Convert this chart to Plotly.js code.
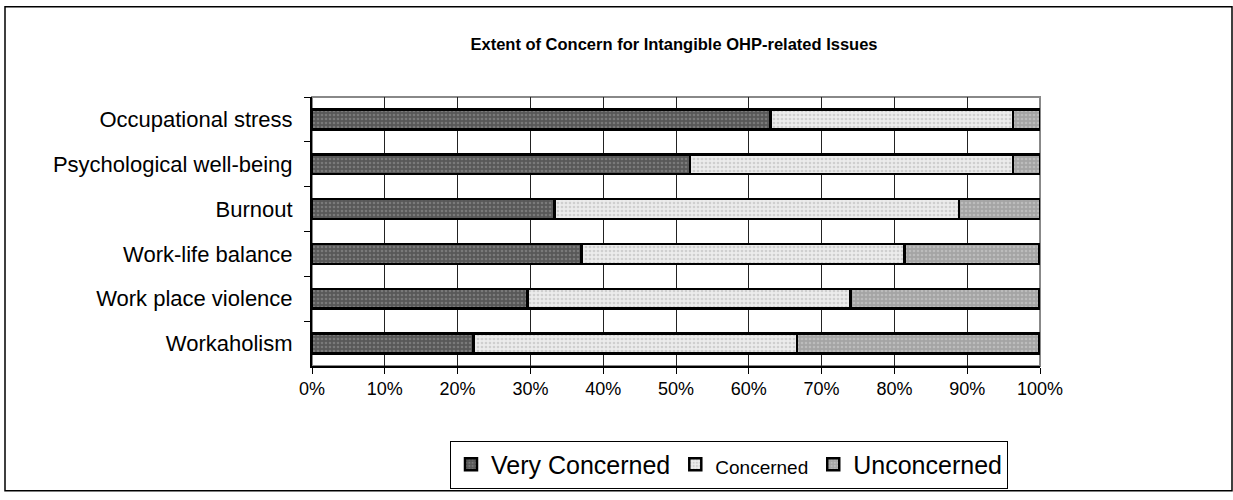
<!DOCTYPE html>
<html>
<head>
<meta charset="utf-8">
<script src="https://cdn.plot.ly/plotly-3.0.1.min.js"></script>
<style>html,body{margin:0;padding:0;background:#fff;}#chart{width:1233px;height:500px;}</style>
</head>
<body>
<div id="chart"></div>
<script>
// Data (percent of respondents)
const categories = ["Occupational stress", "Psychological well-being", "Burnout", "Work-life balance", "Work place violence", "Workaholism"];
const veryConcerned = [63.0, 51.9, 33.3, 37.0, 29.6, 22.2];
const concerned     = [33.3, 44.4, 55.6, 44.4, 44.4, 44.4];
const unconcerned   = [3.7, 3.7, 11.1, 18.5, 25.9, 33.3];
const seriesNames = ["Very Concerned", "<span style=\"font-size:19px\">Concerned</span>", "Unconcerned"];
const xTickVals = [0, 10, 20, 30, 40, 50, 60, 70, 80, 90, 100];
const xTickText = ["0%", "10%", "20%", "30%", "40%", "50%", "60%", "70%", "80%", "90%", "100%"];

const W = 1233, H = 500;
const M = {l: 312, r: 193, t: 97, b: 129};
const pw = W - M.l - M.r, ph = H - M.t - M.b;
const px = x => (x - M.l) / pw;
const py = y => (H - M.b - y) / ph;

function bar(vals, name, bg, fg) {
  return {
    type: 'bar', orientation: 'h', x: vals, y: categories, name: name,
    marker: {
      color: bg,
      line: {color: '#000', width: 2.5},
      pattern: {shape: '.', fgcolor: fg, bgcolor: bg, size: 4, solidity: 0.35}
    },
    hoverinfo: 'x+y'
  };
}

const data = [
  bar(veryConcerned, seriesNames[0], '#585858', '#7a7a7a'),
  bar(concerned, seriesNames[1], '#ececec', '#cfcfcf'),
  bar(unconcerned, seriesNames[2], '#a4a4a4', '#bcbcbc')
];

const layout = {
  width: W, height: H,
  margin: M,
  barmode: 'stack',
  bargap: 0.56,
  paper_bgcolor: '#fff', plot_bgcolor: '#fff',
  font: {family: 'Liberation Sans, Arial, sans-serif', color: '#000', size: 18},
  title: {
    text: '<b>Extent of Concern for Intangible OHP-related Issues</b>',
    font: {size: 16.5, family: 'Liberation Sans, Arial, sans-serif', color: '#000'},
    x: px(674), xanchor: 'center', xref: 'paper',
    y: 1 - 44 / H, yanchor: 'middle'
  },
  xaxis: {
    range: [0, 100], tickvals: xTickVals, ticktext: xTickText,
    showgrid: true, gridcolor: '#222', gridwidth: 1,
    showline: true, linecolor: '#000', linewidth: 1.5,
    ticks: 'outside', ticklen: 6, tickcolor: '#000',
    tickfont: {size: 18}, zeroline: false, fixedrange: true
  },
  yaxis: {
    autorange: 'reversed', type: 'category',
    showline: true, linecolor: '#000', linewidth: 2,
    ticks: 'outside', ticklen: 6, tickcolor: '#000', tickson: 'boundaries',
    ticklabelstandoff: 13,
    tickfont: {size: 22}, showgrid: false, fixedrange: true
  },
  showlegend: true,
  legend: {
    orientation: 'h', traceorder: 'normal',
    x: px(450), xanchor: 'left', y: py(447), yanchor: 'top',
    bordercolor: '#000', borderwidth: 1, bgcolor: '#fff',
    font: {size: 25, color: '#000'},
    itemwidth: 30
  },
  shapes: [
    {type: 'rect', xref: 'paper', yref: 'paper', x0: 0, x1: 1, y0: 0, y1: 1,
     line: {color: '#888', width: 2}, layer: 'below'},
    {type: 'rect', xref: 'paper', yref: 'paper', x0: px(5), x1: px(1232), y0: py(498), y1: py(5),
     line: {color: '#000', width: 1.5}, layer: 'below'}
  ]
};

Plotly.newPlot('chart', data, layout, {displayModeBar: false, staticPlot: true});
</script>
</body>
</html>
